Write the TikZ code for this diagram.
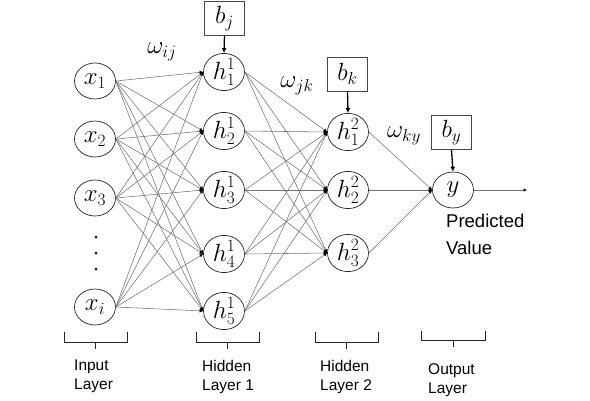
\documentclass[tikz,border=0pt]{standalone}
\usepackage{fontspec}
\setsansfont{Liberation Sans}
\usetikzlibrary{arrows.meta,shapes.geometric}
\definecolor{edgegray}{RGB}{115,115,115}
\definecolor{boxgray}{RGB}{70,70,70}
\begin{document}
\begin{tikzpicture}[x=1pt,y=-1pt,
  neuron/.style={draw=black!85, line width=0.7pt, ellipse, minimum width=41pt, minimum height=36pt, inner sep=0pt, font=\fontsize{23}{26}\selectfont},
  biasbox/.style={draw=boxgray, line width=0.8pt, minimum width=40pt, minimum height=34pt, inner sep=0pt, font=\fontsize{23}{26}\selectfont},
  conn/.style={draw=edgegray, line width=0.55pt, -{Latex[length=3.5pt,width=3.5pt,color=black]}},
  biasarrow/.style={draw=black, line width=1.3pt, -{Latex[length=5pt,width=5pt]}},
  wlabel/.style={font=\fontsize{23}{26}\selectfont, inner sep=0pt},
  laylabel/.style={font=\sffamily\fontsize{15.5}{19}\selectfont, align=left, anchor=north west, inner sep=0pt},
  predlabel/.style={font=\sffamily\fontsize{18.5}{27}\selectfont, align=left, anchor=north west, inner sep=0pt},
  bracepath/.style={draw=black!85, line width=1pt},
  dotmark/.style={circle, fill=black, inner sep=0pt, minimum size=3pt}
]
\useasboundingbox (0,0) rectangle (590,400);
% input layer
\node[neuron] (x1) at (95,81) {$x_1$};
\node[neuron] (x2) at (95,139) {$x_2$};
\node[neuron] (x3) at (95,198) {$x_3$};
\node[neuron] (xi) at (95,307) {$x_i$};
\node[dotmark] (d1) at (96,237) {};
\node[dotmark] (d2) at (96,253) {};
\node[dotmark] (d3) at (96,269) {};
% hidden layer 1
\node[neuron] (ha1) at (224,72) {$h^1_1$};
\node[neuron] (ha2) at (224,131) {$h^1_2$};
\node[neuron] (ha3) at (224,190) {$h^1_3$};
\node[neuron] (ha4) at (224,254) {$h^1_4$};
\node[neuron] (ha5) at (224,311) {$h^1_5$};
% hidden layer 2
\node[neuron] (hb1) at (348,132) {$h^2_1$};
\node[neuron] (hb2) at (348,190) {$h^2_2$};
\node[neuron] (hb3) at (348,253) {$h^2_3$};
% output
\node[neuron] (y) at (453,190) {$y$};
\coordinate (yout) at (527,190);
% bias boxes
\node[biasbox] (bj) at (224.5,18.5) {$b_j$};
\node[biasbox] (bk) at (347.5,74) {$b_k$};
\node[biasbox] (by) at (451.5,132.5) {$b_y$};
\draw[biasarrow] (bj.south) -- (ha1.north);
\draw[biasarrow] (bk.south) -- (hb1.north);
\draw[biasarrow] (by.south) -- (y.north);
% connections input -> hidden1
\foreach \s in {x1,x2,x3,xi}{
  \foreach \t in {ha1,ha2,ha3,ha4,ha5}{
    \draw[conn] (\s.east) -- (\t.west);
  }
}
% hidden1 -> hidden2
\foreach \s in {ha1,ha2,ha3,ha4,ha5}{
  \foreach \t in {hb1,hb2,hb3}{
    \draw[conn] (\s.east) -- (\t.west);
  }
}
% hidden2 -> output
\foreach \s in {hb1,hb2,hb3}{
  \draw[conn] (\s.east) -- (y.west);
}
\draw[conn] (y.east) -- (yout);
% weight labels
\node[wlabel] (wij) at (162,52) {$\omega_{ij}$};
\node[wlabel] (wjk) at (297,86) {$\omega_{jk}$};
\node[wlabel] (wky) at (404,136) {$\omega_{ky}$};
% predicted value
\node[predlabel] (pred) at (446,214) {Predicted\\Value};
% braces
\draw[bracepath] (64,332) -- (64,342) -- (127,342) -- (127,332);
\draw[bracepath] (95.5,342) -- (95.5,349);
\draw[bracepath] (196,332) -- (196,342) -- (259,342) -- (259,332);
\draw[bracepath] (227.5,342) -- (227.5,349);
\draw[bracepath] (315,332) -- (315,342) -- (378,342) -- (378,332);
\draw[bracepath] (346.5,342) -- (346.5,349);
\draw[bracepath] (421,331) -- (421,340) -- (485,340) -- (485,331);
\draw[bracepath] (453,340) -- (453,347);
% layer labels
\node[laylabel] (lin) at (74,360) {Input\\Layer};
\node[laylabel] (lh1) at (202,360) {Hidden\\Layer 1};
\node[laylabel] (lh2) at (320,360) {Hidden\\Layer 2};
\node[laylabel] (lout) at (428,363) {Output\\Layer};
\end{tikzpicture}
\end{document}
